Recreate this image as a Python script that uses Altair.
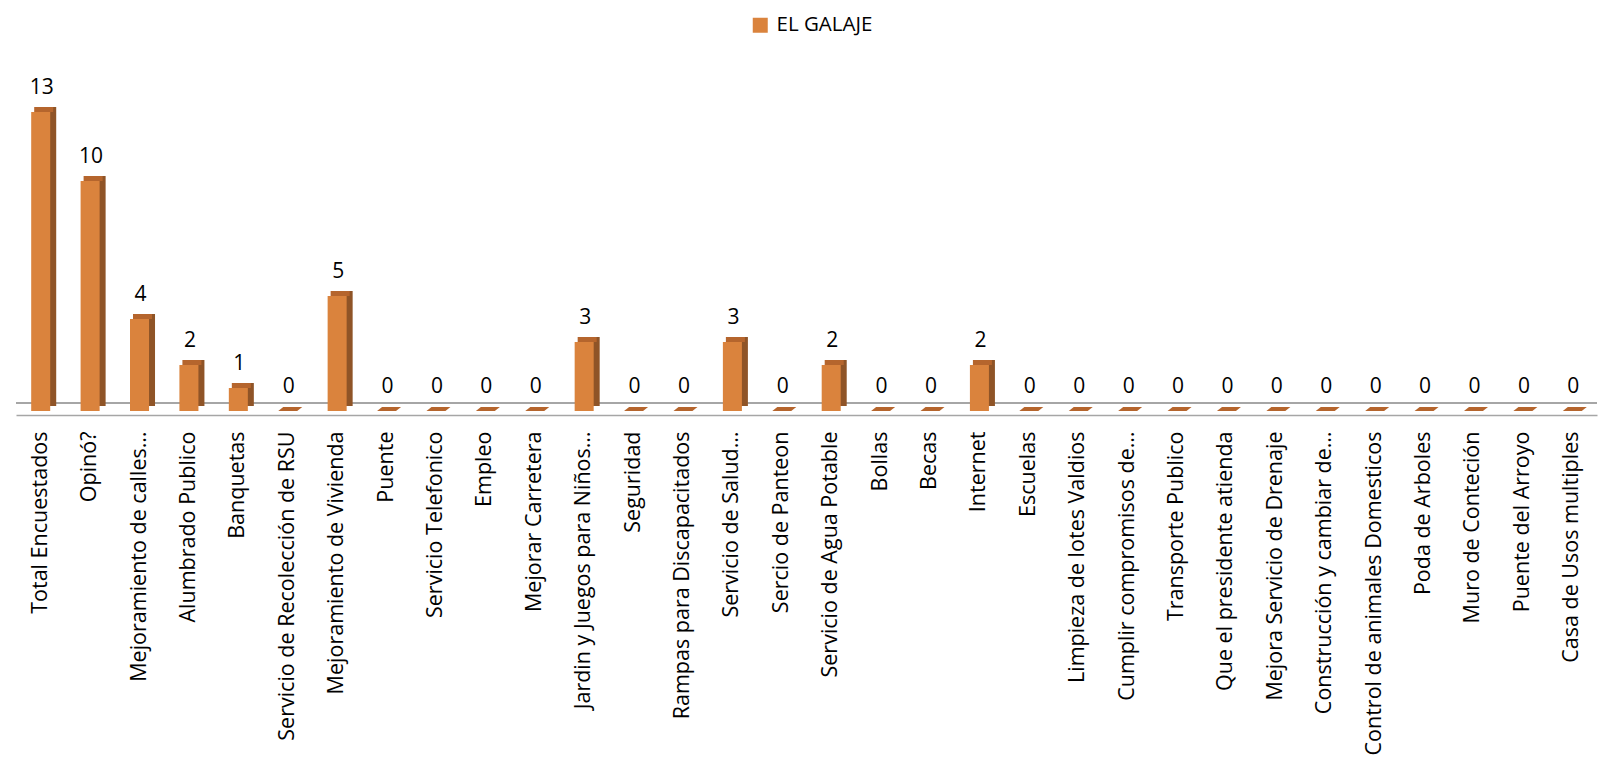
import altair as alt
import pandas as pd

categories = [
    "Total Encuestados", "Opinó?", "Mejoramiento de calles…", "Alumbrado Publico",
    "Banquetas", "Servicio de Recolección de RSU", "Mejoramiento de Vivienda", "Puente",
    "Servicio Telefonico", "Empleo", "Mejorar Carretera", "Jardin y Juegos para Niños…",
    "Seguridad", "Rampas para Discapacitados", "Servicio de Salud…", "Sercio de Panteon",
    "Servicio de Agua Potable", "Bollas", "Becas", "Internet", "Escuelas",
    "Limpieza de lotes Valdios", "Cumplir compromisos de…", "Transporte Publico",
    "Que el presidente atienda", "Mejora Servicio de Drenaje", "Construcción y cambiar de…",
    "Control de animales Domesticos", "Poda de Arboles", "Muro de Conteción",
    "Puente del Arroyo", "Casa de Usos multiples",
]
values = [13, 10, 4, 2, 1, 0, 5, 0, 0, 0, 0, 3, 0, 0, 3, 0, 2, 0, 0, 2, 0,
          0, 0, 0, 0, 0, 0, 0, 0, 0, 0, 0]
series_name = "EL GALAJE"

df = pd.DataFrame({"cat": categories, "val": values, "serie": series_name})
df["zero"] = 0

FONT = "Open Sans"
FRONT = "#DA833D"
SIDE = "#8F5427"
TOP = "#B5652D"
FLAT_PATH = "M-1,0.167 L0.58,0.167 L1,-0.167 L-0.58,-0.167 Z"

xenc = alt.X("cat:N", sort=categories,
             scale=alt.Scale(paddingInner=0.615, paddingOuter=0.3075),
             axis=alt.Axis(title=None, labelAngle=-90, labelAlign="right",
                           labelBaseline="middle", labelFont=FONT, labelFontSize=21.5,
                           labelColor="#000000", labelLimit=600, labelPadding=16,
                           ticks=False, domainColor="#A6A6A6", domainWidth=1.5,
                           offset=4, labelOverlap=False))
yscale = alt.Scale(domain=[0, 13], nice=False)
yenc = alt.Y("val:Q", scale=yscale, axis=None)

base = alt.Chart(df)

floor_back = base.mark_rule(color="#A6A6A6", strokeWidth=1.5, yOffset=-8).encode(
    y=alt.Y("zero:Q", scale=yscale, axis=None)
)

flat = base.transform_filter("datum.val == 0").mark_point(
    shape=FLAT_PATH, size=576, filled=True, opacity=1, color=TOP,
    strokeWidth=0, xOffset=2.5, yOffset=-2
).encode(x=xenc, y=yenc)

side = base.transform_filter("datum.val > 0").mark_bar(
    color=SIDE, xOffset=6, x2Offset=6, yOffset=-5, y2Offset=-5
).encode(x=xenc, y=yenc, y2="zero:Q")

top = base.transform_filter("datum.val > 0").mark_bar(
    color=TOP, xOffset=3, x2Offset=3, yOffset=-5, y2Offset=0
).encode(x=xenc, y=yenc, y2="val:Q")

front = base.mark_bar(color=FRONT).encode(
    x=xenc,
    y=yenc,
    color=alt.Color("serie:N", scale=alt.Scale(range=[FRONT]),
                    legend=alt.Legend(title=None, orient="none", legendX=734, legendY=-97,
                                      symbolType="square", symbolSize=225,
                                      labelFont=FONT, labelFontSize=20.5, labelColor="#000000",
                                      labelOffset=6, symbolStrokeWidth=0)),
)

labels = base.mark_text(baseline="alphabetic", dy=-18, dx=1, font=FONT, fontSize=21,
                        color="#000000").encode(x=xenc, y=yenc, text="val:Q")

chart = alt.layer(floor_back, flat, side, top, front, labels).properties(
    width=1581, height=299,
    autosize=alt.AutoSizeParams(type="none"),
    padding={"left": 8, "top": 104, "right": 2, "bottom": 358},
).configure_view(strokeWidth=0)

chart.save("out.html", embed_options={"renderer": "svg", "actions": False})
